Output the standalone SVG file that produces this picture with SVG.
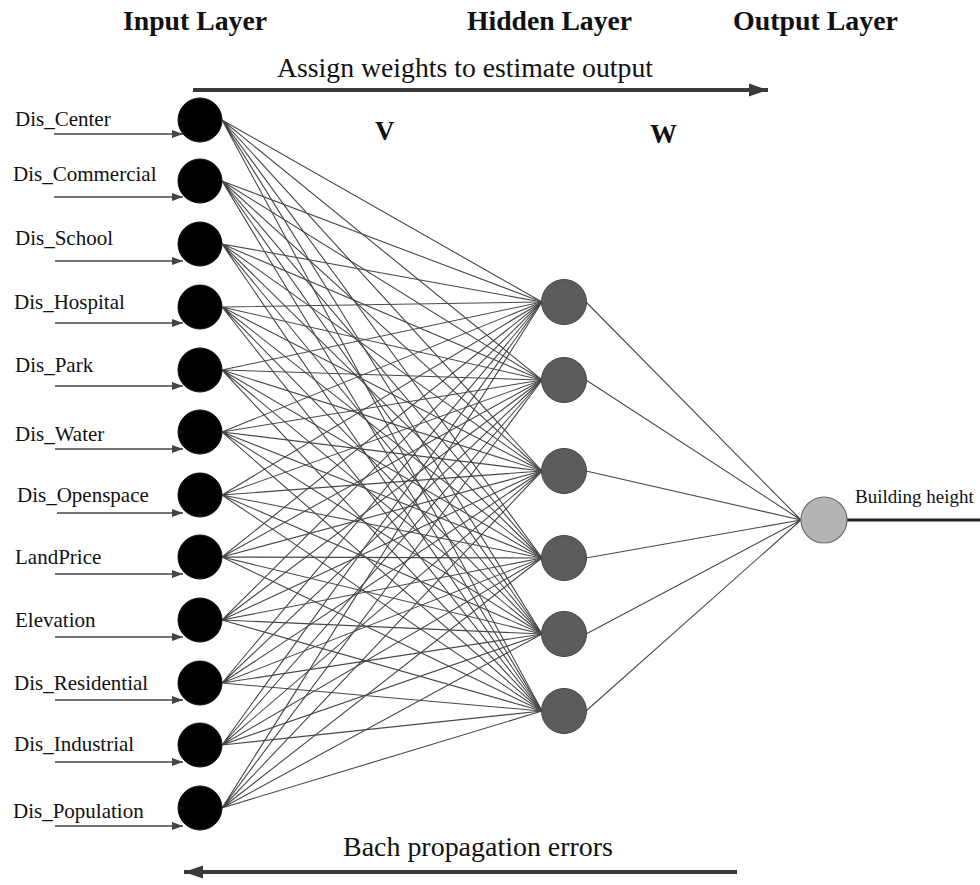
<svg xmlns="http://www.w3.org/2000/svg" width="980" height="885" viewBox="0 0 980 885">
<defs>
<style>
.t{font-family:"Liberation Serif","Times New Roman",serif;fill:#111}
.title{font-size:27px;font-weight:bold}
.big{font-size:27px}
.lbl{font-size:21px}
.w{fill:none;stroke:#484848;stroke-width:1.1}
.in{fill:#000;stroke:#111;stroke-width:1}
.hid{fill:#5c5c5c;stroke:#444;stroke-width:1}
.out{fill:#b4b4b4;stroke:#707070;stroke-width:1.2}
.ia{stroke:#444;stroke-width:1.6;fill:none}
.flow{stroke:#3a3a3a;stroke-width:4;fill:none}
</style>
<marker id="sa" markerUnits="userSpaceOnUse" markerWidth="12" markerHeight="10" refX="11" refY="5" orient="auto">
<path d="M0 1 L11 5 L0 9 Z" fill="#444"/>
</marker>
<marker id="ba" markerUnits="userSpaceOnUse" markerWidth="20" markerHeight="14" refX="19" refY="7" orient="auto">
<path d="M0 0.5 L19 7 L0 13.5 Z" fill="#3a3a3a"/>
</marker>
</defs>
<rect width="980" height="885" fill="#fff"/>

<g id="titles">
<text class="t title" x="123" y="30" textLength="144" lengthAdjust="spacingAndGlyphs">Input Layer</text>
<text class="t title" x="467" y="30" textLength="165" lengthAdjust="spacingAndGlyphs">Hidden Layer</text>
<text class="t title" x="733" y="30" textLength="165" lengthAdjust="spacingAndGlyphs">Output Layer</text>
<text class="t big" x="277" y="77" textLength="376" lengthAdjust="spacingAndGlyphs">Assign weights to estimate output</text>
<text class="t title" x="375" y="140" font-size="26">V</text>
<text class="t title" x="650" y="143" font-size="26">W</text>
<text class="t big" x="343" y="856" textLength="270" lengthAdjust="spacingAndGlyphs">Bach propagation errors</text>
</g>

<g id="connectors">
<line class="flow" x1="193" y1="90" x2="768" y2="90" marker-end="url(#ba)"/>
<line class="flow" x1="737" y1="872" x2="184" y2="872" marker-end="url(#ba)"/>
<line x1="847" y1="520" x2="980" y2="520" stroke="#222" stroke-width="3"/>
<g class="w">
<path d="M222 120L542 302M222 120L542 380M222 120L542 471M222 120L542 558M222 120L542 634M222 120L542 711"/>
<path d="M222 181L542 302M222 181L542 380M222 181L542 471M222 181L542 558M222 181L542 634M222 181L542 711"/>
<path d="M222 244L542 302M222 244L542 380M222 244L542 471M222 244L542 558M222 244L542 634M222 244L542 711"/>
<path d="M222 307L542 302M222 307L542 380M222 307L542 471M222 307L542 558M222 307L542 634M222 307L542 711"/>
<path d="M222 370L542 302M222 370L542 380M222 370L542 471M222 370L542 558M222 370L542 634M222 370L542 711"/>
<path d="M222 432L542 302M222 432L542 380M222 432L542 471M222 432L542 558M222 432L542 634M222 432L542 711"/>
<path d="M222 495L542 302M222 495L542 380M222 495L542 471M222 495L542 558M222 495L542 634M222 495L542 711"/>
<path d="M222 557L542 302M222 557L542 380M222 557L542 471M222 557L542 558M222 557L542 634M222 557L542 711"/>
<path d="M222 620L542 302M222 620L542 380M222 620L542 471M222 620L542 558M222 620L542 634M222 620L542 711"/>
<path d="M222 683L542 302M222 683L542 380M222 683L542 471M222 683L542 558M222 683L542 634M222 683L542 711"/>
<path d="M222 745L542 302M222 745L542 380M222 745L542 471M222 745L542 558M222 745L542 634M222 745L542 711"/>
<path d="M222 808L542 302M222 808L542 380M222 808L542 471M222 808L542 558M222 808L542 634M222 808L542 711"/>
<path d="M586 302L801 520M586 380L801 520M586 471L801 520M586 558L801 520M586 634L801 520M586 711L801 520"/>
</g>
<g class="ia">
<line x1="54" y1="134" x2="183" y2="134" marker-end="url(#sa)"/>
<line x1="54" y1="197" x2="183" y2="197" marker-end="url(#sa)"/>
<line x1="55" y1="261" x2="183" y2="261" marker-end="url(#sa)"/>
<line x1="55" y1="323" x2="183" y2="323" marker-end="url(#sa)"/>
<line x1="55" y1="386" x2="183" y2="386" marker-end="url(#sa)"/>
<line x1="55" y1="449" x2="183" y2="449" marker-end="url(#sa)"/>
<line x1="57" y1="513" x2="183" y2="513" marker-end="url(#sa)"/>
<line x1="55" y1="574" x2="183" y2="574" marker-end="url(#sa)"/>
<line x1="55" y1="637" x2="183" y2="637" marker-end="url(#sa)"/>
<line x1="55" y1="700" x2="183" y2="700" marker-end="url(#sa)"/>
<line x1="55" y1="762" x2="183" y2="762" marker-end="url(#sa)"/>
<line x1="55" y1="826" x2="183" y2="826" marker-end="url(#sa)"/>
</g>
</g>

<g id="in-center"><circle class="in" cx="200" cy="120" r="22"/><text class="t lbl" x="15" y="126">Dis_Center</text></g>
<g id="in-commercial"><circle class="in" cx="200" cy="181" r="22"/><text class="t lbl" x="13" y="181">Dis_Commercial</text></g>
<g id="in-school"><circle class="in" cx="200" cy="244" r="22"/><text class="t lbl" x="15" y="245">Dis_School</text></g>
<g id="in-hospital"><circle class="in" cx="200" cy="307" r="22"/><text class="t lbl" x="14" y="309">Dis_Hospital</text></g>
<g id="in-park"><circle class="in" cx="200" cy="370" r="22"/><text class="t lbl" x="15" y="372">Dis_Park</text></g>
<g id="in-water"><circle class="in" cx="200" cy="432" r="22"/><text class="t lbl" x="15" y="441">Dis_Water</text></g>
<g id="in-openspace"><circle class="in" cx="200" cy="495" r="22"/><text class="t lbl" x="17" y="502">Dis_Openspace</text></g>
<g id="in-landprice"><circle class="in" cx="200" cy="557" r="22"/><text class="t lbl" x="15" y="564">LandPrice</text></g>
<g id="in-elevation"><circle class="in" cx="200" cy="620" r="22"/><text class="t lbl" x="15" y="627">Elevation</text></g>
<g id="in-residential"><circle class="in" cx="200" cy="683" r="22"/><text class="t lbl" x="14" y="690">Dis_Residential</text></g>
<g id="in-industrial"><circle class="in" cx="200" cy="745" r="22"/><text class="t lbl" x="14" y="751">Dis_Industrial</text></g>
<g id="in-population"><circle class="in" cx="200" cy="808" r="22"/><text class="t lbl" x="13" y="818">Dis_Population</text></g>

<g id="hidden-1"><circle class="hid" cx="564" cy="302" r="22.5"/></g>
<g id="hidden-2"><circle class="hid" cx="564" cy="380" r="22.5"/></g>
<g id="hidden-3"><circle class="hid" cx="564" cy="471" r="22.5"/></g>
<g id="hidden-4"><circle class="hid" cx="564" cy="558" r="22.5"/></g>
<g id="hidden-5"><circle class="hid" cx="564" cy="634" r="22.5"/></g>
<g id="hidden-6"><circle class="hid" cx="564" cy="711" r="22.5"/></g>

<g id="output"><circle class="out" cx="824" cy="520" r="23"/><text class="t" x="855" y="503" font-size="19">Building height</text></g>
</svg>
